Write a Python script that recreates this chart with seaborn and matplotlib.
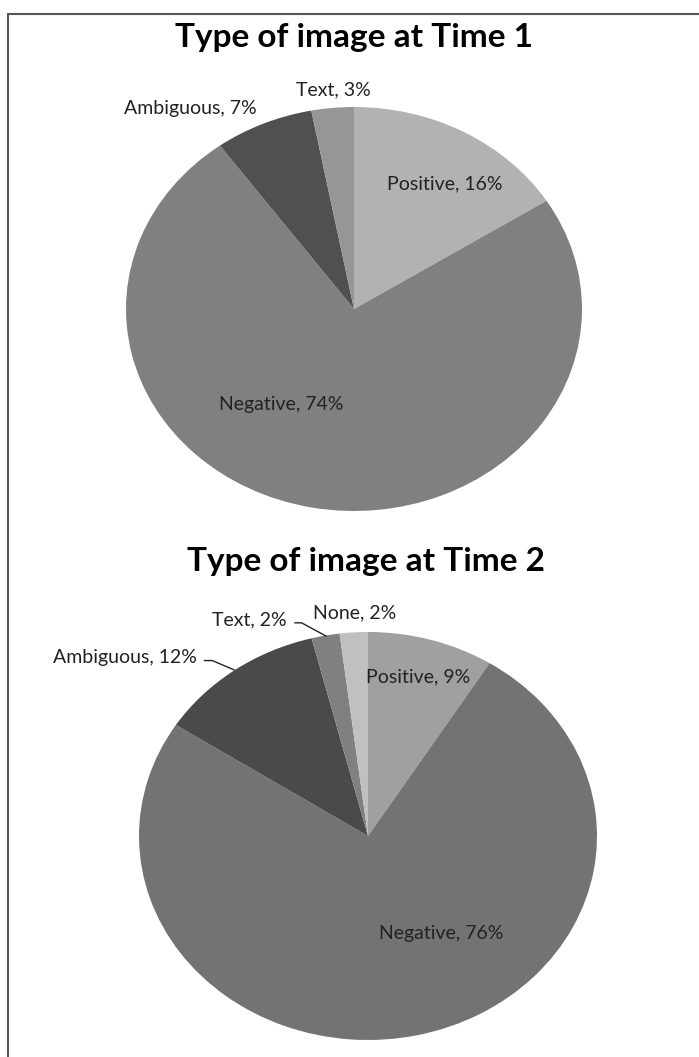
import matplotlib
matplotlib.use("Agg")
import matplotlib.pyplot as plt
from matplotlib.lines import Line2D
import seaborn as sns
import numpy as np

sns.set_theme(style="white")
plt.rcParams['font.family'] = ['Lato', 'DejaVu Sans']

# ---- data ----
title1 = "Type of image at Time 1"
cats1 = ["Positive", "Negative", "Ambiguous", "Text"]
vals1 = [16, 74, 7, 3]
cols1 = ["#b2b2b2", "#808080", "#505050", "#969696"]

title2 = "Type of image at Time 2"
cats2 = ["Positive", "Negative", "Ambiguous", "Text", "None"]
vals2 = [9, 76, 12, 2, 2]
cols2 = ["#a0a0a0", "#737373", "#4a4a4a", "#808080", "#c0c0c0"]

# ---- layout (label positions in pie data units, radius 1) ----
lab1 = [(0.40, 0.62), (-0.32, -0.475), (-0.72, 0.995), (-0.09, 1.085)]
lab2 = [(0.22, 0.78), (0.32, -0.48), (-1.06, 0.875), (-0.52, 1.06), (-0.06, 1.095)]
leader2 = {2: [(-0.715, 0.86), (-0.68, 0.86), (-0.584, 0.814)],
           3: [(-0.32, 1.045), (-0.29, 1.045), (-0.183, 0.98)]}

W, H = 699, 1057
fig = plt.figure(figsize=(W / 100, H / 100), dpi=100)


def pie_axes(cx, cy, rx, ry):
    return fig.add_axes([(cx - rx) / W, 1 - (cy + ry) / H, 2 * rx / W, 2 * ry / H])


def draw(ax, cats, vals, cols, labs, leaders):
    ax.pie(vals, colors=cols, startangle=90, counterclock=False,
           wedgeprops=dict(linewidth=0), radius=1)
    ax.set_aspect('auto')
    ax.set_xlim(-1, 1)
    ax.set_ylim(-1, 1)
    ax.axis('off')
    for i, (c, v) in enumerate(zip(cats, vals)):
        x, y = labs[i]
        ax.text(x, y, f"{c}, {v}%", ha='center', va='center', fontsize=14,
                color='#222222', clip_on=False)
    for i, pts in leaders.items():
        xs, ys = zip(*pts)
        ax.add_line(Line2D(xs, ys, color='#222222', lw=1.0, clip_on=False))


ax1 = pie_axes(354, 309, 228, 202)
draw(ax1, cats1, vals1, cols1, lab1, {})
ax2 = pie_axes(368, 836, 229, 204)
draw(ax2, cats2, vals2, cols2, lab2, leader2)

fig.text(354 / W, 1 - 38 / H, title1, ha='center', va='center',
         fontsize=24, fontweight='bold', color='black')
fig.text(366 / W, 1 - 562 / H, title2, ha='center', va='center',
         fontsize=24, fontweight='bold', color='black')

# outer frame (top and left edges)
fig.add_artist(Line2D([8 / W, 1.0], [1 - 14 / H, 1 - 14 / H], color='#555555', lw=1.5,
                      transform=fig.transFigure))
fig.add_artist(Line2D([8 / W, 8 / W], [0, 1 - 14 / H], color='#555555', lw=1.5,
                      transform=fig.transFigure))

fig.savefig("out.png", dpi=100, facecolor='white')
